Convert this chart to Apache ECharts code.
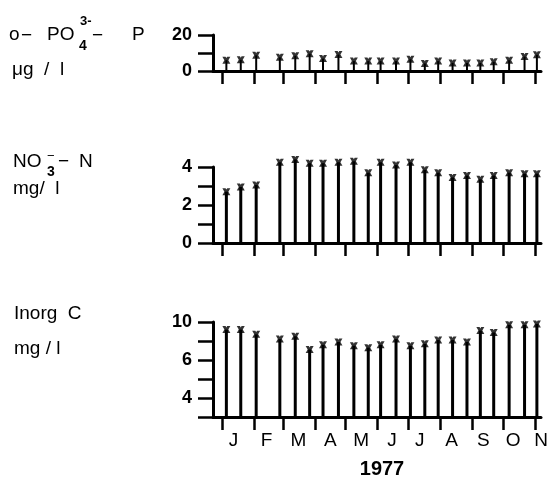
<!DOCTYPE html>
<html><head><meta charset="utf-8">
<script src="https://cdn.jsdelivr.net/npm/echarts@6/dist/echarts.min.js"></script>
<style>html,body{margin:0;padding:0;background:#fff}#c{width:556px;height:478px}</style>
</head><body><div id="c"></div>
<script>
// Sampling dates, day of year 1977 (0 = 1 January)
const sampleDays = [4, 18, 33, 56, 71, 85, 98, 113, 128, 142, 154, 169, 183, 197, 210, 224, 238, 251, 264, 279, 294, 306];
// o-PO4(3-)-P, µg/l
const phosphate = [6, 6.2, 8.7, 7.6, 8.5, 9.6, 6.9, 9.1, 5.5, 5.5, 5.5, 5.5, 6.5, 4.2, 5.5, 4.5, 4.5, 4.5, 5.1, 6, 8, 9];
// NO3(-)-N, mg/l
const nitrate = [2.7, 2.95, 3.05, 4.25, 4.4, 4.2, 4.2, 4.25, 4.3, 3.7, 4.25, 4.1, 4.25, 3.85, 3.7, 3.45, 3.55, 3.35, 3.55, 3.7, 3.65, 3.65];
// Inorganic C, mg/l
const inorgC = [9.2, 9.2, 8.7, 8.2, 8.5, 7.1, 7.6, 7.9, 7.5, 7.3, 7.6, 8.2, 7.5, 7.7, 8.1, 8.1, 7.9, 9.1, 8.9, 9.7, 9.7, 9.8];

// Month boundaries (ticks) and month label anchors (day of year)
const monthStartDays = [0, 31, 59, 90, 120, 151, 181, 212, 243, 273, 304];
const monthLabelDays = [11, 43, 74, 105, 135, 165, 192, 223, 254, 283, 310];
const monthLabels = ['J', 'F', 'M', 'A', 'M', 'J', 'J', 'A', 'S', 'O', 'N'];

// y tick values and their printed labels
const pTickValues = [0, 10, 20];
const pTickLabels = ['0', '', '20'];
const nTickValues = [0, 1, 2, 3, 4];
const nTickLabels = ['0', '', '2', '', '4'];
const cTickValues = [0, 2, 4, 6, 8, 10];
const cTickLabels = ['', '4', '', '6', '', '10'];

const FONT = "'Liberation Sans', Arial, Helvetica, sans-serif";
const BLACK = '#000';

const panels = [
  {top: 35, height: 36, values: phosphate, min: 0, max: 20, interval: 10, tv: pTickValues, tl: pTickLabels, barW: 2},
  {top: 167, height: 76, values: nitrate, min: 0, max: 4, interval: 1, tv: nTickValues, tl: nTickLabels, barW: 3},
  {top: 322, height: 95, values: inorgC, min: 0, max: 10, interval: 2, tv: cTickValues, tl: cTickLabels, barW: 3}
];

const grid = [], xAxis = [], yAxis = [], series = [];
panels.forEach((p, i) => {
  grid.push({left: 213, width: 328, top: p.top, height: p.height});
  xAxis.push({
    type: 'value', gridIndex: i, min: -9, max: 310,
    axisLine: {show: true, onZero: false, lineStyle: {color: BLACK, width: 3}},
    axisTick: {show: true, customValues: monthStartDays, length: 13, lineStyle: {color: BLACK, width: 2.5}},
    axisLabel: {show: i === 2, customValues: monthLabelDays,
      formatter: v => monthLabels[monthLabelDays.indexOf(v)] || '',
      color: BLACK, fontSize: 19, fontFamily: FONT, margin: 14},
    splitLine: {show: false}
  });
  yAxis.push({
    type: 'value', gridIndex: i, min: p.min, max: p.max, interval: p.interval,
    axisLine: {show: true, onZero: false, lineStyle: {color: BLACK, width: 3}},
    axisTick: {show: true, length: 15, lineStyle: {color: BLACK, width: 2.5}},
    axisLabel: {formatter: v => { const k = p.tv.indexOf(v); return k >= 0 ? p.tl[k] : ''; },
      color: BLACK, fontSize: 18, fontWeight: 'bold', fontFamily: FONT, margin: 21},
    splitLine: {show: false}
  });
  const data = sampleDays.map((d, k) => [d, p.values[k]]);
  series.push({
    type: 'bar', xAxisIndex: i, yAxisIndex: i, data: data, barWidth: p.barW,
    itemStyle: {color: BLACK}, clip: false, silent: true
  });
  series.push({
    type: 'scatter', xAxisIndex: i, yAxisIndex: i, data: data,
    symbol: 'path://M0,0L4,0L5,2L6,0L10,0L7.5,5L10,10L6,10L5,8L4,10L0,10L2.5,5Z',
    symbolSize: [8, 7], itemStyle: {color: BLACK}, clip: false, silent: true
  });
});

function txt(x, y, text, size, bold, align) {
  return {type: 'text', x: x, y: y, silent: true,
    style: {text: text, fontSize: size, fontWeight: bold ? 'bold' : 'normal', fontFamily: FONT,
      fill: BLACK, textAlign: align || 'left', textVerticalAlign: 'middle'}};
}

const graphic = [
  // o-PO4 3- -P  µg/l
  txt(9, 35, 'o', 19),
  txt(21, 36, '−', 19),
  txt(47, 35, 'PO', 19),
  txt(79, 46, '4', 14, true),
  txt(80, 21, '3-', 13, true),
  txt(92, 36, '−', 19),
  txt(132, 35, 'P', 19),
  txt(12, 70, 'μg  /  l', 19),
  // NO3- -N  mg/l
  txt(13, 162, 'NO', 19),
  txt(47, 172, '3', 14, true),
  txt(47, 156, '−', 13),
  txt(58, 162, '−', 19),
  txt(79, 162, 'N', 19),
  txt(13, 189, 'mg/  l', 19),
  // Inorg C  mg/l
  txt(14, 314, 'Inorg  C', 19),
  txt(14, 349, 'mg / l', 19),
  // year
  txt(382, 469, '1977', 20, true, 'center')
];

const chart = echarts.init(document.getElementById('c'), null, {renderer: 'canvas'});
chart.setOption({
  backgroundColor: '#fff', animation: false,
  grid: grid, xAxis: xAxis, yAxis: yAxis, series: series, graphic: graphic
});
</script></body></html>
